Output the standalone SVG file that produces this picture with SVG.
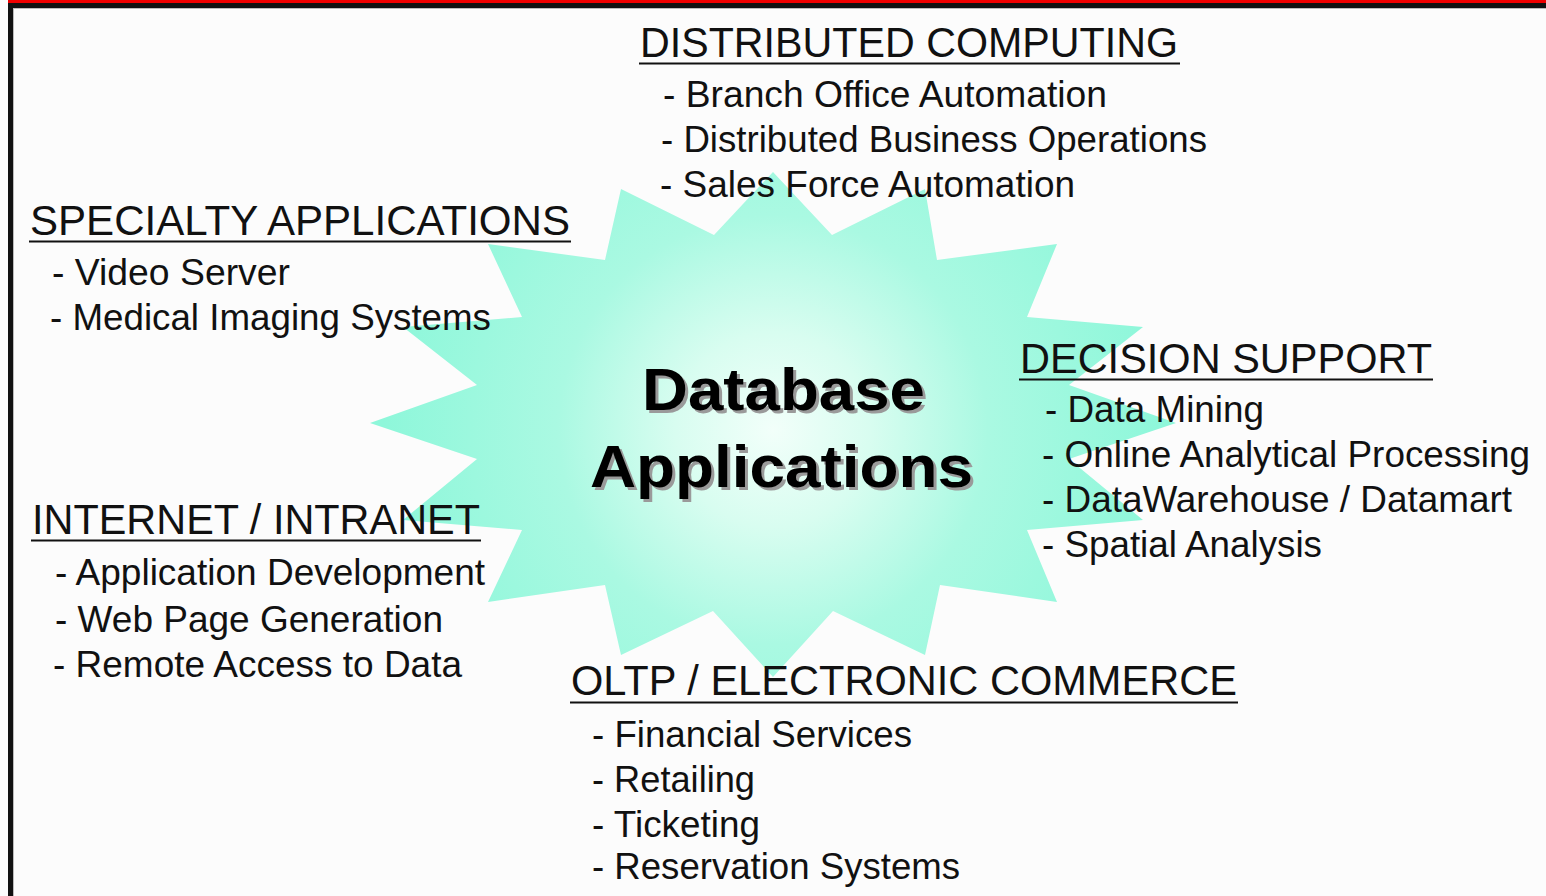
<svg xmlns="http://www.w3.org/2000/svg" width="1546" height="896" viewBox="0 0 1546 896">
<defs>
<style>
.h{font-family:"Liberation Sans",Arial,sans-serif;font-size:43px;fill:#111}
.i{font-family:"Liberation Sans",Arial,sans-serif;font-size:37px;fill:#111}
.t{font-family:"Liberation Sans",Arial,sans-serif;font-size:59px;font-weight:bold}
.u{stroke:#111;stroke-width:2}
</style>
<radialGradient id="g" cx="773" cy="430" r="390" gradientUnits="userSpaceOnUse">
<stop offset="0" stop-color="#f2fffa"/>
<stop offset="0.25" stop-color="#d8fdf0"/>
<stop offset="0.55" stop-color="#aaf9e2"/>
<stop offset="1" stop-color="#8ef7da"/>
</radialGradient>
</defs>
<rect x="0" y="0" width="1546" height="896" fill="#fcfcfc"/>
<g id="frame">
<rect x="8" y="0" width="1538" height="3" fill="#f00000"/>
<rect x="8" y="3" width="1538" height="5" fill="#111"/>
<rect x="8" y="3" width="5" height="893" fill="#111"/>
<rect x="13" y="8" width="1533" height="1" fill="#bbb"/>
<rect x="13" y="8" width="1" height="888" fill="#bbb"/>
</g>
<g id="connectors"/>
<g id="star">
<polygon fill="url(#g)" points="773,172 832,235 925,189 937,260 1057,244 1027,317 1143,327 1069,385 1176,423 1069,459 1143,520 1027,530 1057,602 940,585 925,655 833,611 773,677 713,611 621,655 605,585 488,602 522,530 403,520 477,459 370,423 477,385 403,327 522,317 488,244 605,260 621,189 714,235"/>
<text class="t" x="645" y="413" fill="#9a9a9a" textLength="283" lengthAdjust="spacingAndGlyphs">Database</text>
<text class="t" x="593" y="490" fill="#9a9a9a" textLength="383" lengthAdjust="spacingAndGlyphs">Applications</text>
<text class="t" x="642" y="410" fill="#000" textLength="283" lengthAdjust="spacingAndGlyphs">Database</text>
<text class="t" x="590" y="487" fill="#000" textLength="383" lengthAdjust="spacingAndGlyphs">Applications</text>
</g>
<g id="distributed">
<text class="h" x="640" y="57" textLength="538" lengthAdjust="spacingAndGlyphs">DISTRIBUTED COMPUTING</text>
<line class="u" x1="639" y1="63.5" x2="1180" y2="63.5"/>
<text class="i" x="663" y="107" textLength="444" lengthAdjust="spacingAndGlyphs">- Branch Office Automation</text>
<text class="i" x="661" y="152" textLength="546" lengthAdjust="spacingAndGlyphs">- Distributed Business Operations</text>
<text class="i" x="660" y="197" textLength="415" lengthAdjust="spacingAndGlyphs">- Sales Force Automation</text>
</g>
<g id="specialty">
<text class="h" x="30" y="235" textLength="540" lengthAdjust="spacingAndGlyphs">SPECIALTY APPLICATIONS</text>
<line class="u" x1="29" y1="241.5" x2="571" y2="241.5"/>
<text class="i" x="52" y="285" textLength="238" lengthAdjust="spacingAndGlyphs">- Video Server</text>
<text class="i" x="50" y="330" textLength="441" lengthAdjust="spacingAndGlyphs">- Medical Imaging Systems</text>
</g>
<g id="decision">
<text class="h" x="1020" y="373" textLength="412" lengthAdjust="spacingAndGlyphs">DECISION SUPPORT</text>
<line class="u" x1="1019" y1="379.5" x2="1433" y2="379.5"/>
<text class="i" x="1045" y="422" textLength="219" lengthAdjust="spacingAndGlyphs">- Data Mining</text>
<text class="i" x="1042" y="467" textLength="488" lengthAdjust="spacingAndGlyphs">- Online Analytical Processing</text>
<text class="i" x="1042" y="512" textLength="470" lengthAdjust="spacingAndGlyphs">- DataWarehouse / Datamart</text>
<text class="i" x="1042" y="557" textLength="280" lengthAdjust="spacingAndGlyphs">- Spatial Analysis</text>
</g>
<g id="internet">
<text class="h" x="32" y="534" textLength="448" lengthAdjust="spacingAndGlyphs">INTERNET / INTRANET</text>
<line class="u" x1="31" y1="540.5" x2="481" y2="540.5"/>
<text class="i" x="55" y="585" textLength="430" lengthAdjust="spacingAndGlyphs">- Application Development</text>
<text class="i" x="55" y="632" textLength="388" lengthAdjust="spacingAndGlyphs">- Web Page Generation</text>
<text class="i" x="53" y="677" textLength="409" lengthAdjust="spacingAndGlyphs">- Remote Access to Data</text>
</g>
<g id="oltp">
<text class="h" x="571" y="695" textLength="666" lengthAdjust="spacingAndGlyphs">OLTP / ELECTRONIC COMMERCE</text>
<line class="u" x1="570" y1="702.5" x2="1238" y2="702.5"/>
<text class="i" x="592" y="747" textLength="320" lengthAdjust="spacingAndGlyphs">- Financial Services</text>
<text class="i" x="592" y="792" textLength="163" lengthAdjust="spacingAndGlyphs">- Retailing</text>
<text class="i" x="592" y="837" textLength="168" lengthAdjust="spacingAndGlyphs">- Ticketing</text>
<text class="i" x="592" y="879" textLength="368" lengthAdjust="spacingAndGlyphs">- Reservation Systems</text>
</g>
</svg>
